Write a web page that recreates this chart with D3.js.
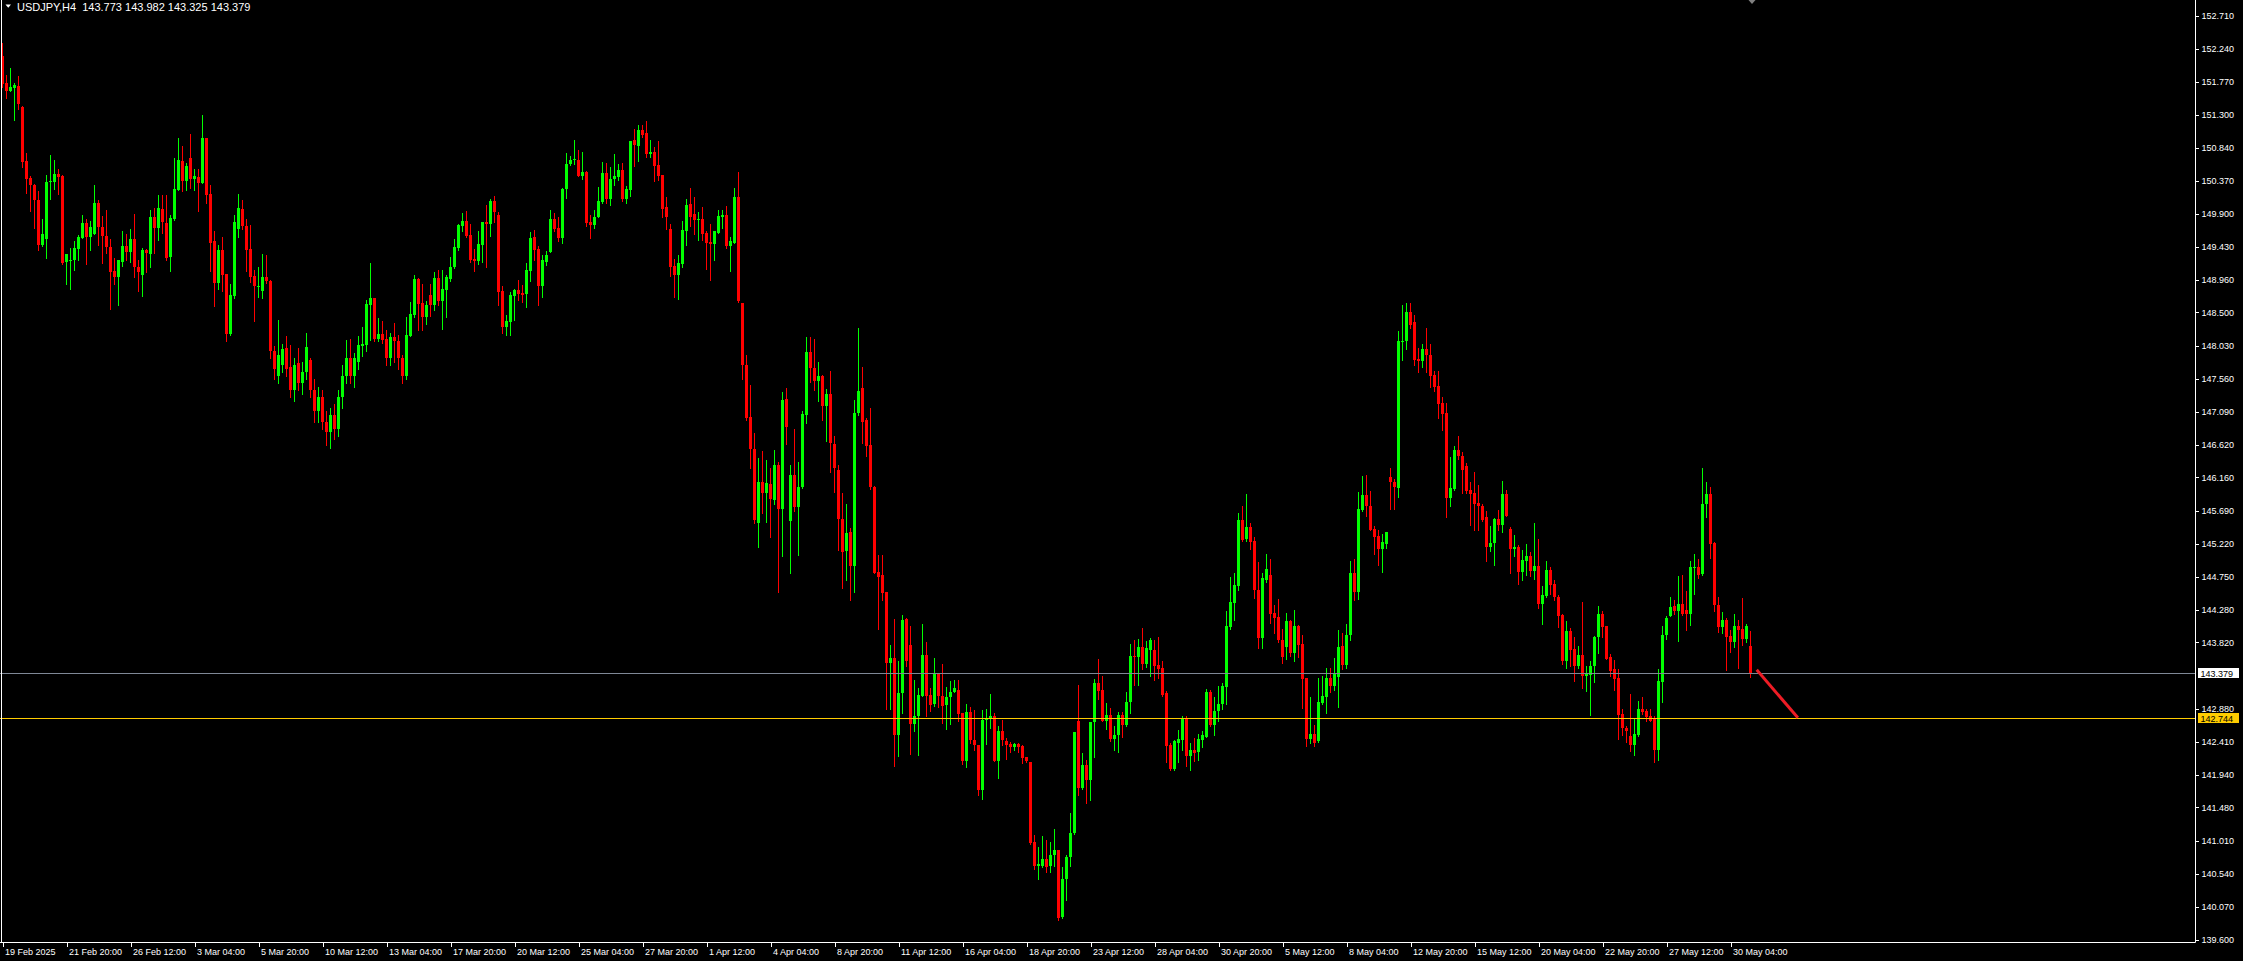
<!DOCTYPE html>
<html><head><meta charset="utf-8">
<script src="https://cdn.jsdelivr.net/npm/d3@7"></script>
<style>html,body{margin:0;padding:0;background:#000;overflow:hidden}</style>
</head><body>
<svg id="chart" width="2243" height="961"></svg>
<script>
const symbolTitle = "USDJPY,H4";

const open = [
152.14,151.76,151.64,151.69,151.71,151.42,150.65,150.41,150.31,150.10,
149.46,149.54,150.35,150.35,150.47,150.44,149.21,149.24,149.24,149.40,
149.56,149.77,149.57,149.62,150.05,149.71,149.59,149.43,149.09,149.00,
149.22,149.44,149.36,149.54,149.14,149.03,149.38,149.33,149.85,149.70,
149.97,149.77,149.29,149.83,150.24,150.65,150.36,150.69,150.40,150.42,
150.34,150.97,150.18,149.52,148.92,149.39,149.05,148.19,148.74,149.68,
149.97,149.73,149.40,149.02,148.87,148.81,149.00,148.95,147.95,147.60,
147.75,147.99,147.72,147.40,147.78,147.50,147.65,147.82,147.40,147.10,
147.30,146.95,146.80,147.05,146.85,147.30,147.60,147.85,147.60,147.80,
148.03,148.04,148.61,148.70,148.13,148.20,148.13,147.85,148.15,148.09,
147.85,147.60,148.17,148.46,148.98,148.63,148.44,148.75,148.61,148.99,
148.66,148.82,148.98,149.14,149.41,149.73,149.80,149.60,149.26,149.23,
149.46,149.79,149.76,150.08,149.88,148.81,148.29,148.37,148.74,148.82,
148.78,148.76,149.09,149.57,149.40,148.87,149.22,149.36,149.83,149.70,
149.55,150.25,150.61,150.66,150.67,150.43,150.49,149.78,149.74,149.85,
150.07,150.48,150.11,150.39,150.42,150.52,150.11,150.24,150.95,150.86,
151.09,151.05,150.75,150.78,150.59,150.45,149.99,149.68,149.16,149.03,
149.19,149.66,150.04,149.90,149.81,149.82,149.63,149.50,149.47,149.63,
149.86,149.88,149.45,149.49,150.14,148.64,147.76,147.02,146.56,145.52,
146.10,145.94,146.07,145.84,146.34,145.71,147.27,145.54,146.20,145.74,
146.02,147.05,147.94,147.71,147.53,147.60,147.17,147.35,146.64,146.27,
145.57,145.11,145.38,144.91,147.08,147.43,146.97,146.62,146.03,144.82,
144.77,144.53,143.53,143.60,142.51,143.10,144.15,143.78,142.66,142.77,
143.06,143.64,143.08,142.95,143.38,143.06,142.93,143.05,143.12,143.15,
142.82,142.14,142.83,142.44,142.37,141.73,142.73,142.73,142.78,142.14,
142.56,142.42,142.38,142.34,142.38,142.35,142.20,142.12,140.99,140.65,
140.65,140.75,140.65,140.81,140.88,139.92,140.46,140.77,141.12,142.71,
141.75,142.08,141.87,142.69,143.24,143.15,142.70,142.79,142.45,142.50,
142.79,142.65,142.97,143.63,143.61,143.75,143.52,143.71,143.71,143.50,
143.46,143.10,142.37,142.03,142.40,142.44,142.74,142.21,142.29,142.26,
142.44,142.48,143.11,142.65,142.84,142.95,143.19,144.04,144.38,144.62,
145.55,145.28,145.45,145.26,144.57,143.88,144.71,144.78,144.24,144.18,
143.86,143.76,144.12,143.67,144.05,143.80,143.32,142.45,142.52,142.42,
142.96,143.05,143.32,143.20,143.33,143.77,143.50,143.92,144.81,144.54,
145.70,145.91,145.76,145.43,145.33,145.14,145.22,146.16,146.10,146.01,
148.09,148.09,148.51,148.36,147.84,147.81,147.98,147.90,147.61,147.46,
147.22,147.08,145.87,145.99,146.55,146.47,146.32,145.98,145.94,145.80,
145.75,145.60,145.18,145.23,145.57,145.49,145.93,145.43,145.14,145.17,
144.82,144.98,145.05,144.83,144.90,144.37,144.48,144.85,144.65,144.47,
144.21,143.56,143.98,143.73,143.49,143.64,143.34,143.36,143.48,143.89,
144.22,144.05,143.61,143.44,143.31,142.81,142.61,142.49,142.37,142.51,
142.88,142.84,142.78,142.74,142.29,143.26,143.92,144.19,144.33,144.27,
144.37,144.28,144.22,144.87,144.89,144.79,145.79,145.93,145.23,144.35,
144.04,144.14,143.91,143.82,144.05,144.01,143.87,143.773
];

const high = [
152.32,151.87,151.97,151.76,151.85,151.43,150.76,150.44,150.32,150.22,
149.83,150.45,150.73,150.66,150.53,150.45,149.33,149.41,149.51,149.60,
149.88,149.82,149.80,150.31,150.10,149.87,149.95,149.54,149.27,149.25,
149.65,149.62,149.68,149.90,149.24,149.41,149.40,149.96,149.98,150.17,
150.17,150.16,149.88,150.69,150.98,150.86,150.62,151.03,150.53,150.53,
151.30,150.97,150.31,149.65,149.46,149.57,149.05,148.91,149.88,150.18,
150.10,149.82,149.74,149.10,149.14,149.33,149.32,148.96,148.02,148.39,
148.06,148.17,148.04,147.85,148.00,147.80,148.21,147.86,147.55,147.45,
147.40,147.10,147.15,147.20,147.40,147.75,148.11,148.13,147.92,148.17,
148.30,148.68,149.20,148.70,148.42,148.38,148.25,148.21,148.35,148.18,
147.90,148.44,148.65,149.03,148.99,148.91,148.66,148.91,149.07,149.10,
149.10,149.03,149.29,149.54,149.75,149.91,149.94,149.76,149.40,149.66,
149.79,150.03,150.11,150.15,149.93,148.88,148.47,148.79,148.84,148.96,
148.89,149.20,149.64,149.67,149.45,149.32,149.37,149.95,149.91,149.86,
150.26,150.76,150.72,150.95,150.81,150.78,150.51,149.88,149.95,150.28,
150.64,150.62,150.56,150.75,150.61,150.62,150.29,150.93,151.10,151.16,
151.16,151.22,150.95,150.85,150.93,150.45,150.14,149.76,149.26,149.31,
149.80,150.11,150.26,150.14,149.92,149.99,149.66,149.76,149.66,149.95,
149.95,150.01,149.57,150.27,150.49,148.64,147.90,147.47,146.79,146.44,
146.53,146.41,146.29,146.55,146.38,147.37,147.43,146.34,146.85,146.38,
147.10,148.15,148.15,148.13,147.80,147.61,147.41,147.67,146.75,146.34,
145.94,145.78,145.44,147.26,148.28,147.73,147.00,147.14,146.04,145.06,
145.06,144.54,143.78,144.15,143.56,144.21,144.16,144.05,143.29,143.17,
144.08,143.82,143.18,143.60,143.38,143.51,143.19,143.27,143.29,143.29,
142.82,142.95,142.91,142.86,142.37,142.86,142.87,143.09,142.82,142.64,
142.72,142.47,142.41,142.40,142.39,142.37,142.20,142.13,141.09,140.92,
141.07,141.02,140.99,141.17,140.88,140.64,140.80,141.40,142.55,143.22,
142.25,142.15,142.69,143.30,143.59,143.35,142.96,142.89,142.64,142.83,
142.83,143.11,143.80,143.86,143.87,144.03,143.84,143.88,143.86,143.90,
143.56,143.13,142.39,142.44,142.58,142.77,142.77,142.40,142.46,142.52,
142.57,143.16,143.15,143.04,143.20,143.24,144.26,144.75,144.81,145.66,
145.75,145.93,145.52,145.31,144.96,144.80,145.08,145.00,144.35,144.43,
144.01,144.24,144.14,144.28,144.07,143.93,143.32,143.05,142.65,143.32,
143.34,143.46,143.46,143.60,144.00,143.95,144.08,144.97,145.00,145.96,
146.18,146.19,145.97,145.47,145.42,145.36,145.38,146.29,146.14,148.24,
148.60,148.63,148.64,148.46,147.99,148.06,148.28,148.06,147.67,147.67,
147.30,147.21,146.45,146.60,146.75,146.52,146.36,146.09,146.24,146.05,
145.79,145.68,145.47,145.59,145.70,146.11,145.98,145.46,145.34,145.20,
145.13,145.22,145.10,145.51,145.28,144.62,144.98,144.89,144.71,144.49,
144.23,144.12,144.02,143.89,143.77,144.39,143.48,143.56,143.91,144.34,
144.26,144.05,143.65,143.57,143.44,142.88,142.63,143.09,142.73,142.99,
143.04,142.87,142.87,142.77,143.44,144.05,144.20,144.46,144.42,144.76,
144.78,144.55,144.98,145.08,145.01,146.29,146.09,146.02,145.24,144.46,
144.25,144.16,143.99,144.22,144.14,144.45,144.08,143.982
];

const low = [
151.70,151.54,151.64,151.23,151.39,150.57,150.19,149.94,149.70,149.39,
149.44,149.28,150.11,150.25,150.18,149.19,148.91,148.83,149.10,149.24,
149.55,149.19,149.39,149.62,149.46,149.20,149.34,148.55,148.90,148.61,
149.16,149.24,149.22,149.01,148.81,148.74,149.08,149.15,149.35,149.53,
149.63,149.25,149.09,149.81,150.24,150.23,150.24,150.26,150.24,149.94,
150.33,150.05,149.09,148.59,148.84,148.80,148.09,148.18,148.70,149.57,
149.69,149.09,148.93,148.38,148.72,148.71,148.92,147.85,147.55,147.50,
147.65,147.60,147.30,147.25,147.40,147.35,147.55,147.30,146.95,146.95,
146.85,146.62,146.58,146.70,146.75,147.15,147.50,147.50,147.45,147.70,
147.88,147.96,148.11,148.09,148.10,148.07,147.75,147.75,147.80,147.70,
147.50,147.55,148.16,148.43,148.25,148.25,148.34,148.45,148.54,148.60,
148.27,148.44,148.95,149.13,149.39,149.65,149.57,149.21,149.09,149.19,
149.21,149.14,149.59,149.79,148.60,148.21,148.18,148.18,148.39,148.68,
148.65,148.58,148.94,149.25,148.60,148.72,149.17,149.36,149.66,149.52,
149.49,150.13,150.59,150.60,150.43,150.39,149.72,149.55,149.70,149.85,
150.05,150.05,150.02,150.31,150.38,150.08,150.06,150.15,150.58,150.65,
150.99,150.70,150.70,150.36,150.38,149.86,149.68,149.02,148.72,148.69,
149.15,149.46,149.72,149.62,149.53,149.53,149.12,148.96,149.24,149.63,
149.70,149.42,149.09,149.49,148.65,147.55,146.97,146.30,145.52,145.18,
145.65,145.53,145.31,145.78,144.54,145.04,146.64,144.81,145.69,145.06,
146.01,146.93,147.52,147.40,147.25,146.97,146.67,146.24,145.96,145.13,
144.59,144.71,144.42,144.54,147.05,146.65,146.46,145.99,144.80,144.01,
144.42,142.88,142.88,142.06,142.21,142.82,143.49,142.24,142.56,142.22,
143.06,142.78,142.84,142.92,142.91,142.67,142.59,142.66,143.11,142.71,
142.10,142.05,142.40,142.29,141.65,141.60,142.38,142.60,142.14,141.90,
142.36,142.16,142.27,142.30,142.27,142.11,142.12,140.96,140.61,140.47,
140.64,140.57,140.56,140.65,139.88,139.91,140.17,140.65,141.10,141.66,
141.74,141.54,141.58,142.19,143.02,142.70,142.59,142.42,142.29,142.27,
142.48,142.63,142.82,143.22,143.22,143.44,143.47,143.34,143.29,143.31,
143.06,142.13,142.01,142.01,142.13,142.30,142.06,142.01,142.14,142.15,
142.33,142.48,142.63,142.51,142.71,142.87,142.95,144.01,144.14,144.56,
145.26,145.26,145.15,144.45,143.74,143.74,144.67,144.10,143.96,143.82,
143.53,143.59,143.63,143.56,143.62,142.89,142.35,142.40,142.35,142.41,
142.95,142.82,143.12,143.14,142.91,143.44,143.46,143.85,144.42,144.43,
145.68,145.61,145.41,145.08,144.92,144.82,145.16,145.71,145.71,145.88,
147.82,147.98,148.28,147.76,147.65,147.73,147.66,147.45,147.38,147.01,
146.83,145.60,145.76,145.98,146.42,145.94,145.94,145.48,145.41,145.41,
145.54,144.97,145.12,144.92,145.42,145.39,145.61,144.81,145.05,144.65,
144.70,144.78,144.76,144.72,144.31,144.08,144.46,144.51,144.42,144.04,
143.52,143.45,143.48,143.27,143.45,143.18,143.13,142.79,143.26,143.67,
143.89,143.58,143.34,143.15,142.45,142.51,142.41,142.28,142.22,142.49,
142.81,142.71,142.71,142.12,142.15,142.98,143.87,144.19,144.23,143.84,
144.21,144.00,144.07,144.51,144.74,144.78,145.60,145.02,144.27,143.97,
143.96,143.43,143.69,143.76,143.46,143.78,143.83,143.325
];

const close = [
151.74,151.64,151.70,151.72,151.46,150.64,150.40,150.31,150.09,149.46,
149.61,150.35,150.37,150.47,150.42,149.20,149.33,149.25,149.41,149.57,
149.77,149.57,149.71,150.05,149.71,149.59,149.43,149.08,149.00,149.24,
149.44,149.36,149.54,149.15,149.08,149.38,149.35,149.85,149.70,149.98,
149.79,149.28,149.84,150.25,150.66,150.36,150.58,150.40,150.43,150.34,
150.97,150.17,149.49,148.92,149.39,149.03,148.20,148.75,149.79,149.98,
149.72,149.38,149.01,148.87,148.88,149.00,148.94,147.95,147.70,147.90,
147.98,147.70,147.40,147.75,147.50,147.65,148.01,147.40,147.10,147.30,
146.95,146.80,147.05,146.85,147.30,147.60,147.85,147.60,147.85,148.04,
148.05,148.62,148.70,148.12,148.20,148.11,147.85,148.15,148.09,147.85,
147.60,148.18,148.48,148.98,148.62,148.43,148.61,148.61,148.99,148.66,
148.83,149.00,149.15,149.43,149.74,149.80,149.59,149.25,149.23,149.47,
149.78,149.76,150.08,149.92,148.79,148.29,148.38,148.75,148.82,148.76,
148.75,149.10,149.56,149.39,148.87,149.24,149.32,149.83,149.69,149.56,
150.25,150.61,150.67,150.68,150.43,150.49,149.77,149.74,149.86,150.08,
150.48,150.11,150.40,150.44,150.52,150.11,150.25,150.93,150.88,151.09,
151.02,150.75,150.78,150.58,150.43,149.97,149.85,149.15,149.03,149.20,
149.67,150.03,149.86,149.81,149.83,149.62,149.49,149.47,149.65,149.87,
149.88,149.45,149.51,150.14,148.66,147.75,147.01,146.56,145.56,146.10,
145.94,146.08,145.85,146.33,145.71,147.26,146.88,146.20,145.74,146.03,
147.06,147.94,147.71,147.53,147.60,147.17,147.35,146.65,146.29,145.57,
145.10,145.37,144.91,147.08,147.38,146.94,146.60,146.02,144.81,144.75,
144.52,143.53,143.60,142.51,143.10,144.14,143.56,142.66,142.78,143.07,
143.64,143.06,142.93,143.38,143.06,142.92,143.05,143.12,143.18,142.81,
142.14,142.83,142.44,142.36,141.72,142.72,142.74,142.78,142.14,142.56,
142.43,142.36,142.34,142.38,142.34,142.18,142.14,140.97,140.65,140.67,
140.75,140.64,140.81,140.88,139.91,140.47,140.78,141.12,142.55,141.76,
142.08,141.87,142.69,143.24,143.13,142.70,142.79,142.45,142.51,142.79,
142.65,142.97,143.63,143.61,143.75,143.52,143.74,143.86,143.49,143.44,
143.07,142.35,142.02,142.42,142.45,142.73,142.21,142.29,142.25,142.45,
142.51,143.11,142.65,142.85,142.95,143.20,144.05,144.40,144.63,145.55,
145.27,145.45,145.25,144.57,143.88,144.74,144.86,144.23,144.17,143.86,
143.62,144.12,143.67,144.05,143.79,143.30,142.45,142.52,142.39,142.97,
143.06,143.32,143.20,143.38,143.76,143.50,143.93,144.81,144.54,145.71,
145.91,145.75,145.42,145.31,145.15,145.24,145.38,146.09,146.02,148.09,
148.10,148.51,148.32,147.83,147.81,147.98,147.89,147.60,147.45,147.20,
147.06,145.87,146.01,146.55,146.47,146.27,145.97,145.93,145.79,145.75,
145.56,145.18,145.23,145.57,145.49,145.93,145.61,145.14,145.17,144.82,
144.99,145.05,144.83,144.90,144.37,144.49,144.85,144.64,144.46,144.20,
143.56,143.98,143.71,143.49,143.64,143.34,143.38,143.49,143.90,144.22,
144.04,143.59,143.42,143.30,142.79,142.60,142.56,142.37,142.52,142.88,
142.83,142.76,142.71,142.29,143.27,143.93,144.16,144.32,144.26,144.37,
144.22,144.22,144.89,144.89,144.78,145.79,145.93,145.22,144.35,144.04,
144.14,143.90,143.82,144.05,144.00,143.87,144.05,143.379
];

const timeLabels = ["19 Feb 2025","21 Feb 20:00","26 Feb 12:00","3 Mar 04:00","5 Mar 20:00",
  "10 Mar 12:00","13 Mar 04:00","17 Mar 20:00","20 Mar 12:00","25 Mar 04:00","27 Mar 20:00",
  "1 Apr 12:00","4 Apr 04:00","8 Apr 20:00","11 Apr 12:00","16 Apr 04:00","18 Apr 20:00",
  "23 Apr 12:00","28 Apr 04:00","30 Apr 20:00","5 May 12:00","8 May 04:00","12 May 20:00",
  "15 May 12:00","20 May 04:00","22 May 20:00","27 May 12:00","30 May 04:00"];
const timeLabelBars = [0,16,32,48,64,80,96,112,128,144,160,176,192,208,224,240,256,272,288,304,320,336,352,368,384,400,416,432];

const priceTicks = [152.710,152.240,151.770,151.300,150.840,150.370,149.900,149.430,148.960,148.500,
  148.030,147.560,147.090,146.620,146.160,145.690,145.220,144.750,144.280,143.820,
  142.880,142.410,141.940,141.480,141.010,140.540,140.070,139.600];

const bidPrice = 143.379;
const levelPrice = 142.744;
const projectionBars = [438.8, 448.6];
const projectionPrices = [143.415, 142.767];

// ---------- drawing ----------
const W = 2243, H = 961;
const axisX = 2195.5, axisBottom = 942.5;
const bull = "#00ff00", bear = "#ff0000";
const FONT = "'Liberation Sans', Arial, sans-serif";

const svg = d3.select("#chart");
svg.append("rect").attr("width", W).attr("height", H).attr("fill", "#000");

const x = d3.scaleLinear().domain([0, 437]).range([2.5, 1750.5]);
const y = d3.scaleLinear().domain([139.6, 152.71]).range([939.9, 15.7]);

const candles = open.map((o, i) => ({i, o, h: high[i], l: low[i], c: close[i]}));

const plot = svg.append("g").attr("shape-rendering", "crispEdges");

// wicks
plot.selectAll("line.wick").data(candles).join("line")
  .attr("class", "wick")
  .attr("x1", d => x(d.i)).attr("x2", d => x(d.i))
  .attr("y1", d => Math.round(y(d.h))).attr("y2", d => Math.round(y(d.l)) + 1)
  .attr("stroke", d => d.c >= d.o ? bull : bear).attr("stroke-width", 1);

// bodies
plot.selectAll("rect.body").data(candles).join("rect")
  .attr("class", "body")
  .attr("x", d => x(d.i) - 1.5)
  .attr("width", 3)
  .attr("y", d => Math.round(y(Math.max(d.o, d.c))))
  .attr("height", d => Math.max(1, Math.round(y(Math.min(d.o, d.c))) - Math.round(y(Math.max(d.o, d.c)))))
  .attr("fill", d => d.c >= d.o ? bull : bear);

// horizontal lines
const yb = Math.round(y(bidPrice)) + 0.5;
const yl = Math.round(y(levelPrice)) + 0.5;
svg.append("line").attr("x1", 0).attr("x2", axisX).attr("y1", yb).attr("y2", yb)
  .attr("stroke", "#7f8896").attr("stroke-width", 1);
svg.append("line").attr("x1", 0).attr("x2", axisX).attr("y1", yl).attr("y2", yl)
  .attr("stroke", "#ffcc00").attr("stroke-width", 1);

// projection trend line
svg.append("line")
  .attr("x1", x(projectionBars[0])).attr("y1", y(projectionPrices[0]))
  .attr("x2", x(projectionBars[1])).attr("y2", y(projectionPrices[1]))
  .attr("stroke", "#ee1c25").attr("stroke-width", 3).attr("stroke-linecap", "square");

// frame
svg.append("line").attr("x1", 1.5).attr("x2", 1.5).attr("y1", 0).attr("y2", axisBottom)
  .attr("stroke", "#fff").attr("stroke-width", 1);
svg.append("line").attr("x1", 0).attr("x2", axisX).attr("y1", axisBottom).attr("y2", axisBottom)
  .attr("stroke", "#fff").attr("stroke-width", 1);
svg.append("line").attr("x1", axisX).attr("x2", axisX).attr("y1", 0).attr("y2", axisBottom)
  .attr("stroke", "#fff").attr("stroke-width", 1);

// price axis
const yAxis = d3.axisRight(y).tickValues(priceTicks).tickSize(3).tickPadding(3)
  .tickFormat(d3.format(".3f"));
const gy = svg.append("g").attr("transform", `translate(${axisX},0)`).call(yAxis);
gy.select(".domain").remove();
gy.selectAll(".tick line").attr("stroke", "#fff").attr("shape-rendering", "crispEdges");
gy.selectAll(".tick text").attr("fill", "#fff").attr("font-family", FONT).attr("font-size", 9);

// time axis
const xAxis = d3.axisBottom(x).tickValues(timeLabelBars).tickSize(4).tickPadding(4)
  .tickFormat((d, i) => timeLabels[i]);
const gx = svg.append("g").attr("transform", `translate(0,${axisBottom})`).call(xAxis);
gx.select(".domain").remove();
gx.selectAll(".tick line").attr("stroke", "#fff").attr("shape-rendering", "crispEdges");
gx.selectAll(".tick text").attr("fill", "#fff").attr("font-family", FONT).attr("font-size", 9)
  .attr("text-anchor", "start").attr("dx", 2).attr("dy", "0.55em");

// price labels (bid and level)
function priceTag(p, bg, yy) {
  svg.append("rect").attr("x", axisX + 2).attr("y", yy - 5.5).attr("width", 41).attr("height", 10)
    .attr("fill", bg).attr("shape-rendering", "crispEdges");
  svg.append("text").attr("x", axisX + 5).attr("y", yy + 3.5).text(d3.format(".3f")(p))
    .attr("fill", "#000").attr("font-family", FONT).attr("font-size", 9);
}
priceTag(bidPrice, "#ffffff", yb);
priceTag(levelPrice, "#ffcc00", yl);

// title
svg.append("path").attr("d", "M5.5,4.5 L11,4.5 L8.25,7.8 Z").attr("fill", "#fff");
const last = candles[candles.length - 1];
svg.append("text").attr("x", 17).attr("y", 10.5)
  .style("white-space", "pre")
  .text(`${symbolTitle}  ${d3.format(".3f")(last.o)} ${d3.format(".3f")(last.h)} ${d3.format(".3f")(last.l)} ${d3.format(".3f")(last.c)}`)
  .attr("fill", "#fff").attr("font-family", FONT).attr("font-size", 11);

// chart shift marker
const sx = x(437) + 1.5;
svg.append("path").attr("d", `M${sx - 3.5},0 L${sx + 3.5},0 L${sx},4 Z`).attr("fill", "#808080");
</script>
</body></html>
